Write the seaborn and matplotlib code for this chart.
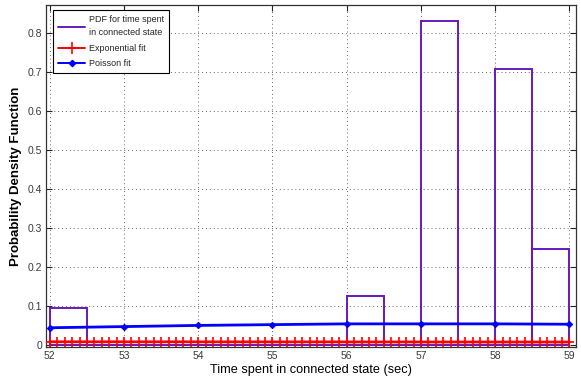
import numpy as np
import pandas as pd
import matplotlib
matplotlib.use("Agg")
import matplotlib.pyplot as plt
from matplotlib.lines import Line2D
import seaborn as sns

# ---- data ----
bin_edges = [52.0, 52.5, 53.0, 53.5, 54.0, 54.5, 55.0, 55.5, 56.0, 56.5, 57.0, 57.5, 58.0, 58.5, 59.0]
pdf_values = [0.095, 0.0, 0.0, 0.0, 0.0, 0.0, 0.0, 0.0, 0.127, 0.0, 0.831, 0.0, 0.709, 0.248]

poisson_x = [52, 53, 54, 55, 56, 57, 58, 59]
poisson_y = [0.045, 0.048, 0.051, 0.053, 0.055, 0.055, 0.055, 0.054]

exp_x = [round(52 + 0.1 * i, 1) for i in range(71)]
exp_y = [0.0090, 0.0090, 0.0090, 0.0090, 0.0090, 0.0090, 0.0090, 0.0090, 0.0090, 0.0090,
         0.0089, 0.0089, 0.0089, 0.0089, 0.0089, 0.0089, 0.0089, 0.0089, 0.0089, 0.0089,
         0.0088, 0.0088, 0.0088, 0.0088, 0.0088, 0.0088, 0.0088, 0.0088, 0.0088, 0.0088,
         0.0087, 0.0087, 0.0087, 0.0087, 0.0087, 0.0087, 0.0087, 0.0087, 0.0087, 0.0087,
         0.0086, 0.0086, 0.0086, 0.0086, 0.0086, 0.0086, 0.0086, 0.0086, 0.0086, 0.0086,
         0.0085, 0.0085, 0.0085, 0.0085, 0.0085, 0.0085, 0.0085, 0.0085, 0.0085, 0.0085,
         0.0084, 0.0084, 0.0084, 0.0084, 0.0084, 0.0084, 0.0084, 0.0084, 0.0084, 0.0084,
         0.0084]

x_ticks = [52, 53, 54, 55, 56, 57, 58, 59]
y_ticks = [0, 0.1, 0.2, 0.3, 0.4, 0.5, 0.6, 0.7, 0.8]
y_ticklabels = ["0", "0.1", "0.2", "0.3", "0.4", "0.5", "0.6", "0.7", "0.8"]

sns.set_theme(style="white")
plt.rcParams["font.family"] = ["Liberation Sans", "DejaVu Sans"]

fig = plt.figure(figsize=(5.81, 3.82), dpi=100)
ax = fig.add_axes([0.080, 0.092, 0.911, 0.894])

purple = "#6619c0"
red = "#ff0000"
blue = "#0000ff"

centers = [(bin_edges[i] + bin_edges[i + 1]) / 2 for i in range(len(pdf_values))]
hist_df = pd.DataFrame({"t": centers, "w": pdf_values})
sns.histplot(data=hist_df, x="t", weights="w", bins=bin_edges, element="bars",
             fill=False, color=purple, linewidth=1.4, ax=ax, zorder=2)

poi_df = pd.DataFrame({"t": poisson_x, "p": poisson_y})
sns.lineplot(data=poi_df, x="t", y="p", color=blue, linewidth=2.0,
             marker="D", markersize=3.2, markeredgecolor=blue, markerfacecolor=blue,
             ax=ax, zorder=3)

exp_df = pd.DataFrame({"t": exp_x, "p": exp_y})
sns.lineplot(data=exp_df, x="t", y="p", color=red, linewidth=2.0,
             marker="+", markersize=7, markeredgewidth=1.2, markeredgecolor=red,
             ax=ax, zorder=4)

ax.set_xlim(51.955, 59.086)
ax.set_ylim(-0.004, 0.872)
ax.set_xticks(x_ticks)
ax.set_xticklabels([str(v) for v in x_ticks])
ax.set_yticks(y_ticks)
ax.set_yticklabels(y_ticklabels)
ax.tick_params(axis="both", direction="in", length=4, width=0.8, labelsize=7.5,
               colors="#222222", labelcolor="#3a3a3a", top=True, right=True,
               bottom=True, left=True, pad=3)
ax.grid(True, linestyle=(0, (1, 3)), color="#666666", linewidth=0.7)
for sp in ax.spines.values():
    sp.set_visible(True)
    sp.set_color("#333333")
    sp.set_linewidth(0.9)

ax.set_xlabel("Time spent in connected state (sec)", fontsize=9.2, labelpad=2, color="black")
ax.set_ylabel("Probability Density Function", fontsize=9.5, fontweight="bold", labelpad=4, color="black")

handles = [
    Line2D([], [], color=purple, linewidth=1.4),
    Line2D([], [], color=red, linewidth=1.4, marker="+", markersize=9, markeredgewidth=1.2),
    Line2D([], [], color=blue, linewidth=1.4, marker="D", markersize=3.2),
]
labels = ["PDF for time spent\nin connected state", "Exponential fit", "Poisson fit"]
leg = ax.legend(handles, labels, loc="upper left", bbox_to_anchor=(0.013, 0.985),
                fontsize=6.5, frameon=True, fancybox=False, framealpha=1,
                edgecolor="black", handlelength=3.0, handletextpad=0.35,
                borderpad=0.55, labelspacing=0.75, borderaxespad=0)
leg.get_frame().set_linewidth(0.8)
for t in leg.get_texts():
    t.set_linespacing(1.5)

fig.savefig("out.png", dpi=100)
